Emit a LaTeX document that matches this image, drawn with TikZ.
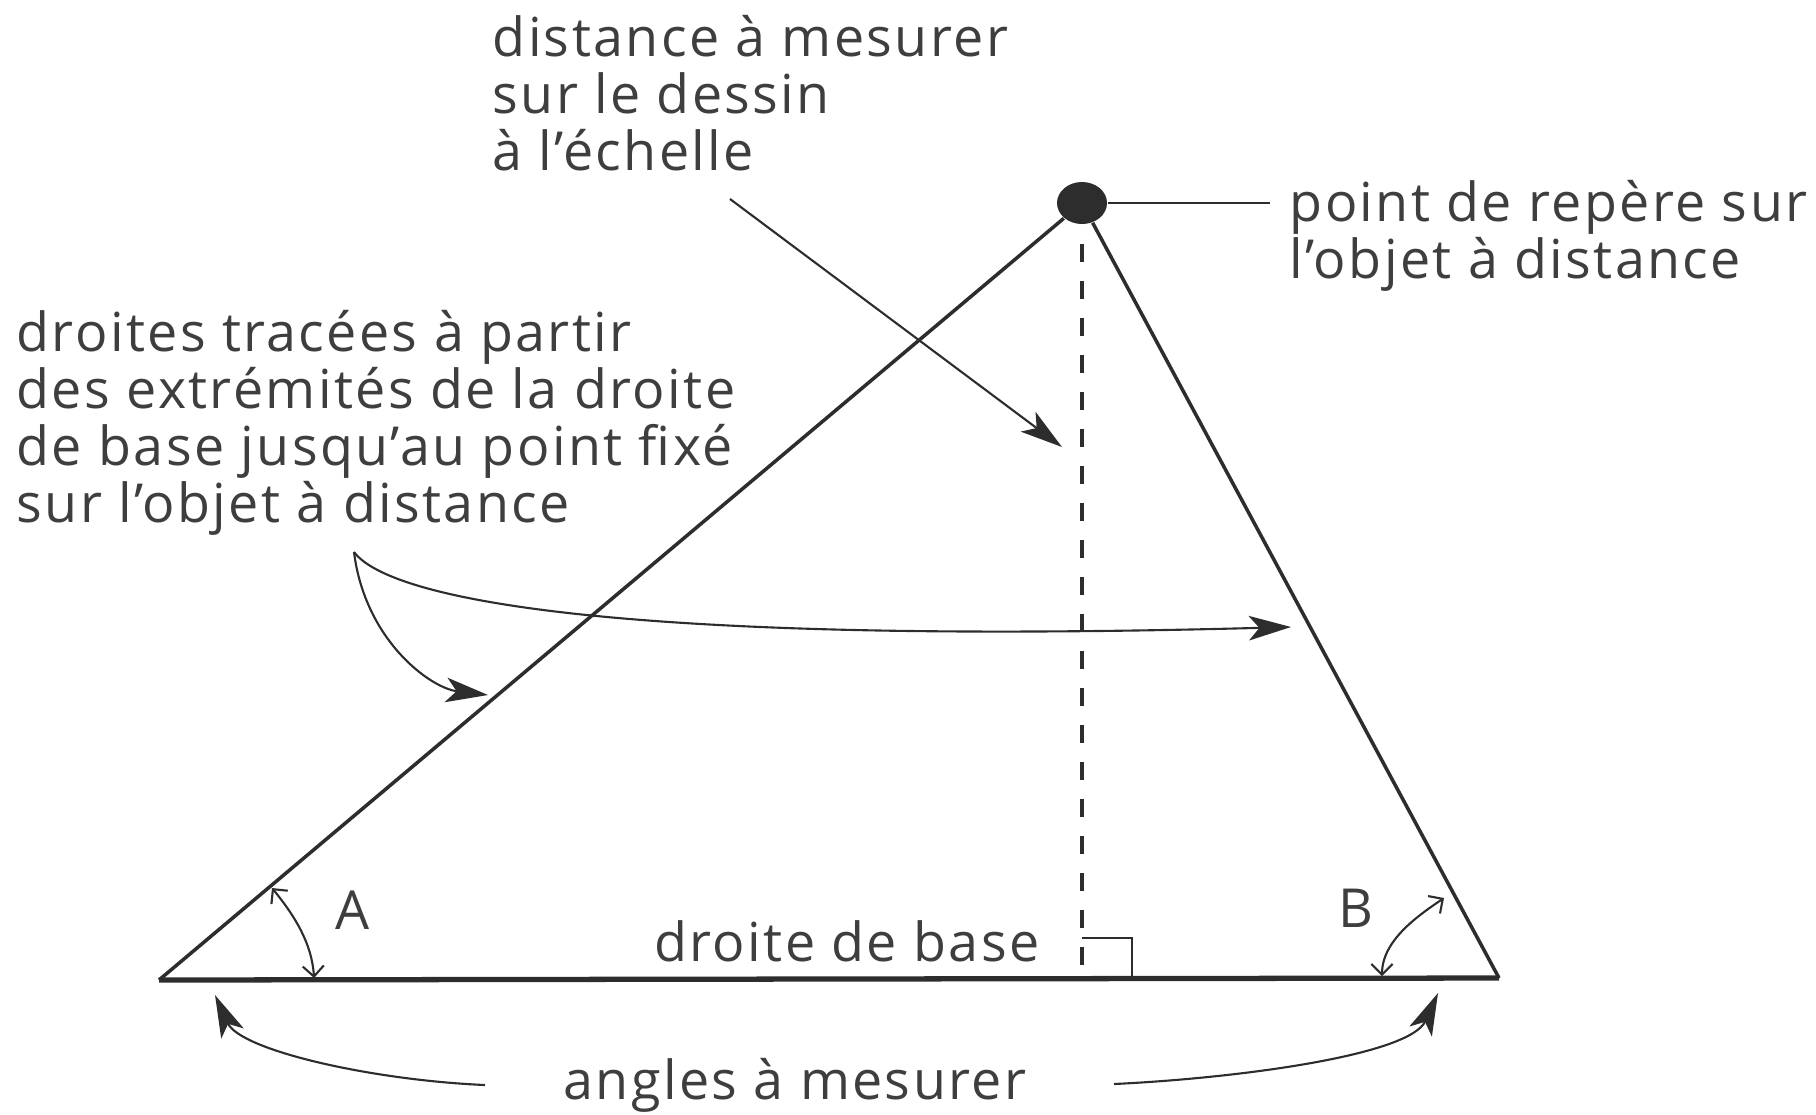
\documentclass[tikz,border=0pt]{standalone}
\usepackage{fontspec}
\setmainfont[LetterSpace=4.4]{Open Sans}
\usepackage{xcolor}
\usepackage{tikz}
\usetikzlibrary{arrows.meta, shapes.geometric}
\definecolor{inkgray}{RGB}{45, 45, 45}
\definecolor{textgray}{RGB}{62, 62, 62}

\begin{document}
\begin{tikzpicture}[x=0.01cm, y=-0.01cm,
    lbl/.style={font=\fontsize{15.3}{16.2}\selectfont, text=textgray, inner sep=0pt, align=left},
    edge/.style={inkgray, line width=1pt},
    pointer/.style={inkgray, line width=0.6pt, -{Stealth[length=12pt, width=7pt, inset=3pt]}},
    anglemark/.style={inkgray, line width=0.6pt, {Straight Barb[length=3pt]}-{Straight Barb[length=3pt]}}]
    \useasboundingbox (0,0) rectangle (1816,1114);

    % Triangle corners
    \coordinate (A) at (159,980);
    \coordinate (B) at (1499,978);
    \coordinate (H) at (1082,978);
    \node[ellipse, fill=inkgray, minimum width=0.5cm, minimum height=0.42cm, inner sep=0pt]
        (pt) at (1082,203) {};

    % Sides, base and height
    \draw[edge] (A) -- (pt);
    \draw[edge] (B) -- (pt);
    \draw[inkgray, line width=1.5pt] (A) -- (B);
    \draw[inkgray, line width=1.1pt, dash pattern=on 0.18cm off 0.19cm, dash phase=0.18cm]
        (pt) -- (H);
    \draw[inkgray, line width=0.4pt] (H) ++(0,-40) -| ++(50,40);

    % Labels (base = last line)
    \node[lbl, anchor=base west] (dist) at (492,170) {distance à mesurer\\sur le dessin\\à l’échelle};
    \node[lbl, anchor=base west] (repere) at (1289,278) {point de repère sur\\l’objet à distance};
    \node[lbl, anchor=base west] (droites) at (16,522)
        {droites tracées à partir\\des extrémités de la droite\\de base jusqu’au point fixé\\sur l’objet à distance};
    \node[lbl, anchor=base east] (base) at (1040,961) {droite de base};
    \node[lbl, anchor=base west] (angles) at (563,1099) {angles à mesurer};
    \node[lbl, anchor=base] (lA) at (353,929) {A};
    \node[lbl, anchor=base] (lB) at (1356,927) {B};

    % Pointers
    \coordinate (distfoot) at (730,199);
    \coordinate (disttip) at (1062,447);
    \draw[pointer] (distfoot) -- (disttip);
    \coordinate (repfoot) at (1270,203);
    \draw[inkgray, line width=0.6pt] (pt) -- (repfoot);

    \coordinate (fork) at (354,552);
    \coordinate (lefttip) at (488,695);
    \coordinate (righttip) at (1291,627);
    \draw[pointer] (fork) .. controls (365,640) and (430,688) .. (lefttip);
    \draw[pointer] (fork) .. controls (390,600) and (620,645) .. (righttip);

    % Angles
    \coordinate (A1) at (272,888);
    \coordinate (A2) at (314,978);
    \draw[anglemark] (A1) .. controls (294,915) and (312,943) .. (A2);
    \coordinate (B1) at (1444,898);
    \coordinate (B2) at (1382,976);
    \draw[anglemark] (B1) .. controls (1419,915) and (1382,940) .. (B2);

    \coordinate (angL) at (485,1085);
    \coordinate (angR) at (1114,1084);
    \draw[pointer] (angL) .. controls (370,1080) and (240,1050) .. (215,995);
    \draw[pointer] (angR) .. controls (1240,1078) and (1410,1055) .. (1438,993);
\end{tikzpicture}
\end{document}
